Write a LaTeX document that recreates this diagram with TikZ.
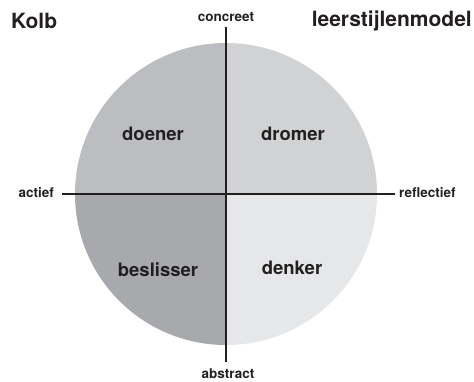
\documentclass[tikz,border=0pt]{standalone}
\usepackage{fontspec}
\setmainfont{TeX Gyre Heros}
\definecolor{ink}{HTML}{231F20}
\definecolor{qTL}{HTML}{BCBDC0}
\definecolor{qTR}{HTML}{D1D2D4}
\definecolor{qBL}{HTML}{A7A9AC}
\definecolor{qBR}{HTML}{E6E7E8}
\tikzset{
  quad/.style={font=\fontsize{18.5}{20}\selectfont\bfseries, text=ink, inner sep=0pt},
  axislabel/.style={font=\fontsize{13.5}{15}\selectfont\bfseries, text=ink, inner sep=0pt},
  titlelabel/.style={font=\fontsize{21}{23}\selectfont\bfseries, text=ink, inner sep=0pt},
  axis/.style={draw=ink, line width=2.6pt}
}
\begin{document}
\begin{tikzpicture}[x=1pt,y=-1pt]
\useasboundingbox (0,0) rectangle (474,381);
\coordinate (C) at (226,194);
\begin{scope}
  \clip (C) circle (151);
  \fill[qTL] (70,38) rectangle (C);
  \fill[qTR] (382,38) rectangle (C);
  \fill[qBL] (70,350) rectangle (C);
  \fill[qBR] (382,350) rectangle (C);
\end{scope}
\coordinate (top) at (226,27);
\coordinate (bot) at (226,362);
\coordinate (lft) at (62,194);
\coordinate (rgt) at (395,194);
\draw[axis] (top) -- (bot);
\draw[axis] (lft) -- (rgt);
\node[titlelabel, anchor=west] (kolb) at (11,21) {Kolb};
\node[titlelabel, anchor=east] (model) at (472,21) {leerstijlenmodel};
\node[axislabel] (concreet) at (226,17) {concreet};
\node[axislabel, anchor=base] (abstract) at (228,378.5) {abstract};
\node[axislabel, anchor=east] (actief) at (54,193) {actief};
\node[axislabel, anchor=west] (reflectief) at (399,193) {reflectief};
\node[quad] (doener) at (153,134) {doener};
\node[quad] (dromer) at (293,134) {dromer};
\node[quad] (beslisser) at (158,270) {beslisser};
\node[quad] (denker) at (292,268) {denker};
\end{tikzpicture}
\end{document}
